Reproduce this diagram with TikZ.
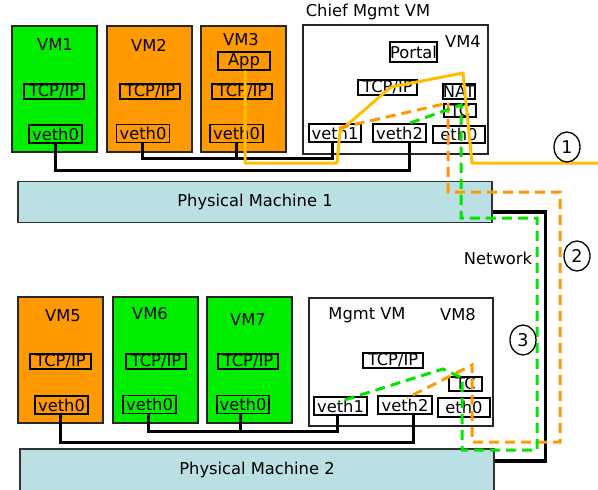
\documentclass[tikz,border=0pt]{standalone}
\usepackage{fontspec}
\setmainfont{DejaVu Sans}
\usetikzlibrary{shapes.geometric}
\definecolor{vmgreen}{RGB}{0,238,0}
\definecolor{vmorange}{RGB}{255,153,0}
\definecolor{pathyellow}{RGB}{255,192,0}
\definecolor{pmblue}{RGB}{187,224,228}
\definecolor{dashgreen}{RGB}{0,230,0}
\definecolor{dashorange}{RGB}{255,153,0}

\begin{document}
\begin{tikzpicture}[x=1pt,y=-1pt,
  every node/.style={font=\fontsize{16.3}{19}\selectfont, inner sep=0pt},
  vmbox/.style={draw=black!85, line width=1.5pt, minimum width=85pt, minimum height=126pt},
  mgmtbox/.style={draw=black!85, line width=1.5pt, fill=white},
  ibox/.style={draw, line width=1.3pt},
  tcp/.style={ibox, minimum width=60pt, minimum height=15pt},
  veth/.style={ibox, minimum width=53pt, minimum height=18pt},
  pm/.style={draw=black!80, line width=1.5pt, fill=pmblue, minimum width=474pt, minimum height=41pt},
  link/.style={line width=3pt, line cap=rect},
  netlink/.style={line width=3.4pt},
  flowsolid/.style={pathyellow, line width=3pt, line join=round},
  flowgreen/.style={dashgreen, line width=3pt, dash pattern=on 10pt off 6pt},
  floworange/.style={dashorange, line width=3pt, dash pattern=on 10pt off 6pt},
  num/.style={draw, line width=1.3pt, ellipse, minimum width=26pt, minimum height=30pt,
              font=\fontsize{17.5}{20}\selectfont}
]
\useasboundingbox (0,0) rectangle (598,490);

% ---------- Physical machine 1 ----------
\node[vmbox, fill=vmgreen]  (vm1) at (54.5,89) {};
\node[vmbox, fill=vmorange] (vm2) at (149.5,89) {};
\node[vmbox, fill=vmorange] (vm3) at (243.5,89) {};
\node[mgmtbox, minimum width=185pt, minimum height=129pt] (vm4) at (395.5,89.5) {};

\node (vm1l) at (55,45) {VM1};
\node (vm2l) at (149,45) {VM2};
\node (vm3l) at (241,40) {VM3};
\node (vm4l) at (463,42) {VM4};
\node (chief) at (368,12) {Chief Mgmt VM};

\node[tcp] (vm1t) at (54,91.5) {TCP/IP};
\node[tcp] (vm2t) at (150,91.5) {TCP/IP};
\node[tcp] (vm3t) at (242,91.5) {TCP/IP};
\node[veth] (vm1e) at (55.5,134) {veth0};
\node[veth] (vm2e) at (143,133.5) {veth0};
\node[veth] (vm3e) at (236.5,133.5) {veth0};
\node[ibox, minimum width=52pt, minimum height=18pt] (app) at (244,61) {App};

\node[ibox, minimum width=47pt, minimum height=20pt] (portal) at (413.5,52) {Portal};
\node[ibox, minimum width=59pt, minimum height=15pt] (vm4t) at (387.5,87.5) {TCP/IP};
\node[ibox, minimum width=32pt, minimum height=15pt] (nat) at (459,91.5) {NAT};
\node[ibox, minimum width=32pt, minimum height=13pt] (tc1) at (460,110.5) {TC};
\node[veth, minimum width=52pt] (vm4v1) at (335,133) {veth1};
\node[veth] (vm4v2) at (399.5,133) {veth2};
\node[veth, minimum width=52pt, minimum height=17pt] (vm4e) at (459,134.5) {eth0};

\node[pm] (pm1) at (255,202) {Physical Machine 1};

% ---------- Physical machine 2 ----------
\node[vmbox, fill=vmorange] (vm5) at (60.5,360) {};
\node[vmbox, fill=vmgreen]  (vm6) at (155.5,360) {};
\node[vmbox, fill=vmgreen]  (vm7) at (249.5,360) {};
\node[mgmtbox, minimum width=184pt, minimum height=128pt] (vm8) at (401,362) {};

\node (vm5l) at (63,316) {VM5};
\node (vm6l) at (150,314) {VM6};
\node (vm7l) at (248,320) {VM7};
\node (mgmt) at (367,315.5) {Mgmt VM};
\node (vm8l) at (458,315) {VM8};

\node[tcp, minimum width=61pt] (vm5t) at (60.5,361.5) {TCP/IP};
\node[tcp] (vm6t) at (156,361.5) {TCP/IP};
\node[tcp] (vm7t) at (248,361.5) {TCP/IP};
\node[veth] (vm5e) at (61.5,405) {veth0};
\node[veth] (vm6e) at (149.5,404.5) {veth0};
\node[veth, minimum width=52pt] (vm7e) at (243,404.5) {veth0};

\node[ibox, minimum width=60pt, minimum height=15pt] (vm8t) at (393,360.5) {TCP/IP};
\node[ibox, minimum width=33pt, minimum height=14pt] (tc2) at (465.5,384) {TC};
\node[veth] (vm8v1) at (340.5,406) {veth1};
\node[veth, minimum width=54pt] (vm8v2) at (405,405) {veth2};
\node[veth, minimum width=52pt, minimum height=19pt] (vm8e) at (464,407.5) {eth0};

\node[pm, minimum height=42pt] (pm2) at (257,470) {Physical Machine 2};

% ---------- virtual links to the management VMs ----------
\draw[link] (vm1e.south) -- ++(0,27) -| ([xshift=9.5pt]vm4v2.south);
\draw[link] ([xshift=-0.5pt]vm2e.south) -- ++(0,15) -| ([xshift=-3pt]vm4v1.south);
\draw[link] ([xshift=-0.5pt]vm3e.south) -- ++(0,15);
\draw[link] ([xshift=-1.5pt]vm5e.south) -- ++(0,28) -| ([xshift=8pt]vm8v2.south);
\draw[link] ([xshift=-1.5pt]vm6e.south) -- ++(0,17.5) -| ([xshift=-3.5pt]vm8v1.south);
\draw[link] ([xshift=-3pt]vm7e.south) -- ++(0,17.5);

% ---------- physical network between the two machines ----------
\draw[netlink] ([yshift=-10pt]pm1.east) -- ++(53,0) |- ([yshift=9pt]pm2.east);
\node (net) at (498,258) {Network};

% ---------- flow 1: App to the outside through NAT ----------
\coordinate (y1) at (245,163);
\coordinate (y2) at (337,163);
\coordinate (y3) at (340,131);
\coordinate (y4) at (391,87);
\coordinate (y5) at (463,73);
\coordinate (y6) at (472,163);
\coordinate (yout) at (598,163);
\draw[flowsolid] ([xshift=1pt]app.south) -- (y1) -- (y2) -- (y3) -- (y4) -- (y5) -- (y6) -- (yout);

% ---------- flow 2: orange VMs across the network ----------
\coordinate (o1) at (339,128);
\coordinate (o2) at (448,103);
\coordinate (o3) at (448,192);
\coordinate (o4) at (560,192);
\coordinate (o5) at (560,442);
\coordinate (o6) at (472,442);
\coordinate (o7) at (472,365);
\coordinate (o8) at (407,398);
\draw[floworange] (o1) -- (o2) -- (o3) -- (o4) -- (o5) -- (o6) -- (o7) -- (o8);

% ---------- flow 3: green VMs across the network ----------
\coordinate (g1) at (410,123);
\coordinate (g2) at (461,105);
\coordinate (g3) at (461,218);
\coordinate (g4) at (537,218);
\coordinate (g5) at (537,450);
\coordinate (g6) at (462,450);
\coordinate (g7) at (462,378);
\coordinate (g8) at (443,369);
\coordinate (g9) at (338,402);
\draw[flowgreen] (g1) -- (g2) -- (g3) -- (g4) -- (g5) -- (g6) -- (g7) -- (g8) -- (g9);

% ---------- flow numbers ----------
\node[num, fill=white] (n1) at (567,147) {1};
\node[num, fill=white] (n2) at (577,256) {2};
\node[num, fill=white] (n3) at (523,340) {3};
\end{tikzpicture}
\end{document}
